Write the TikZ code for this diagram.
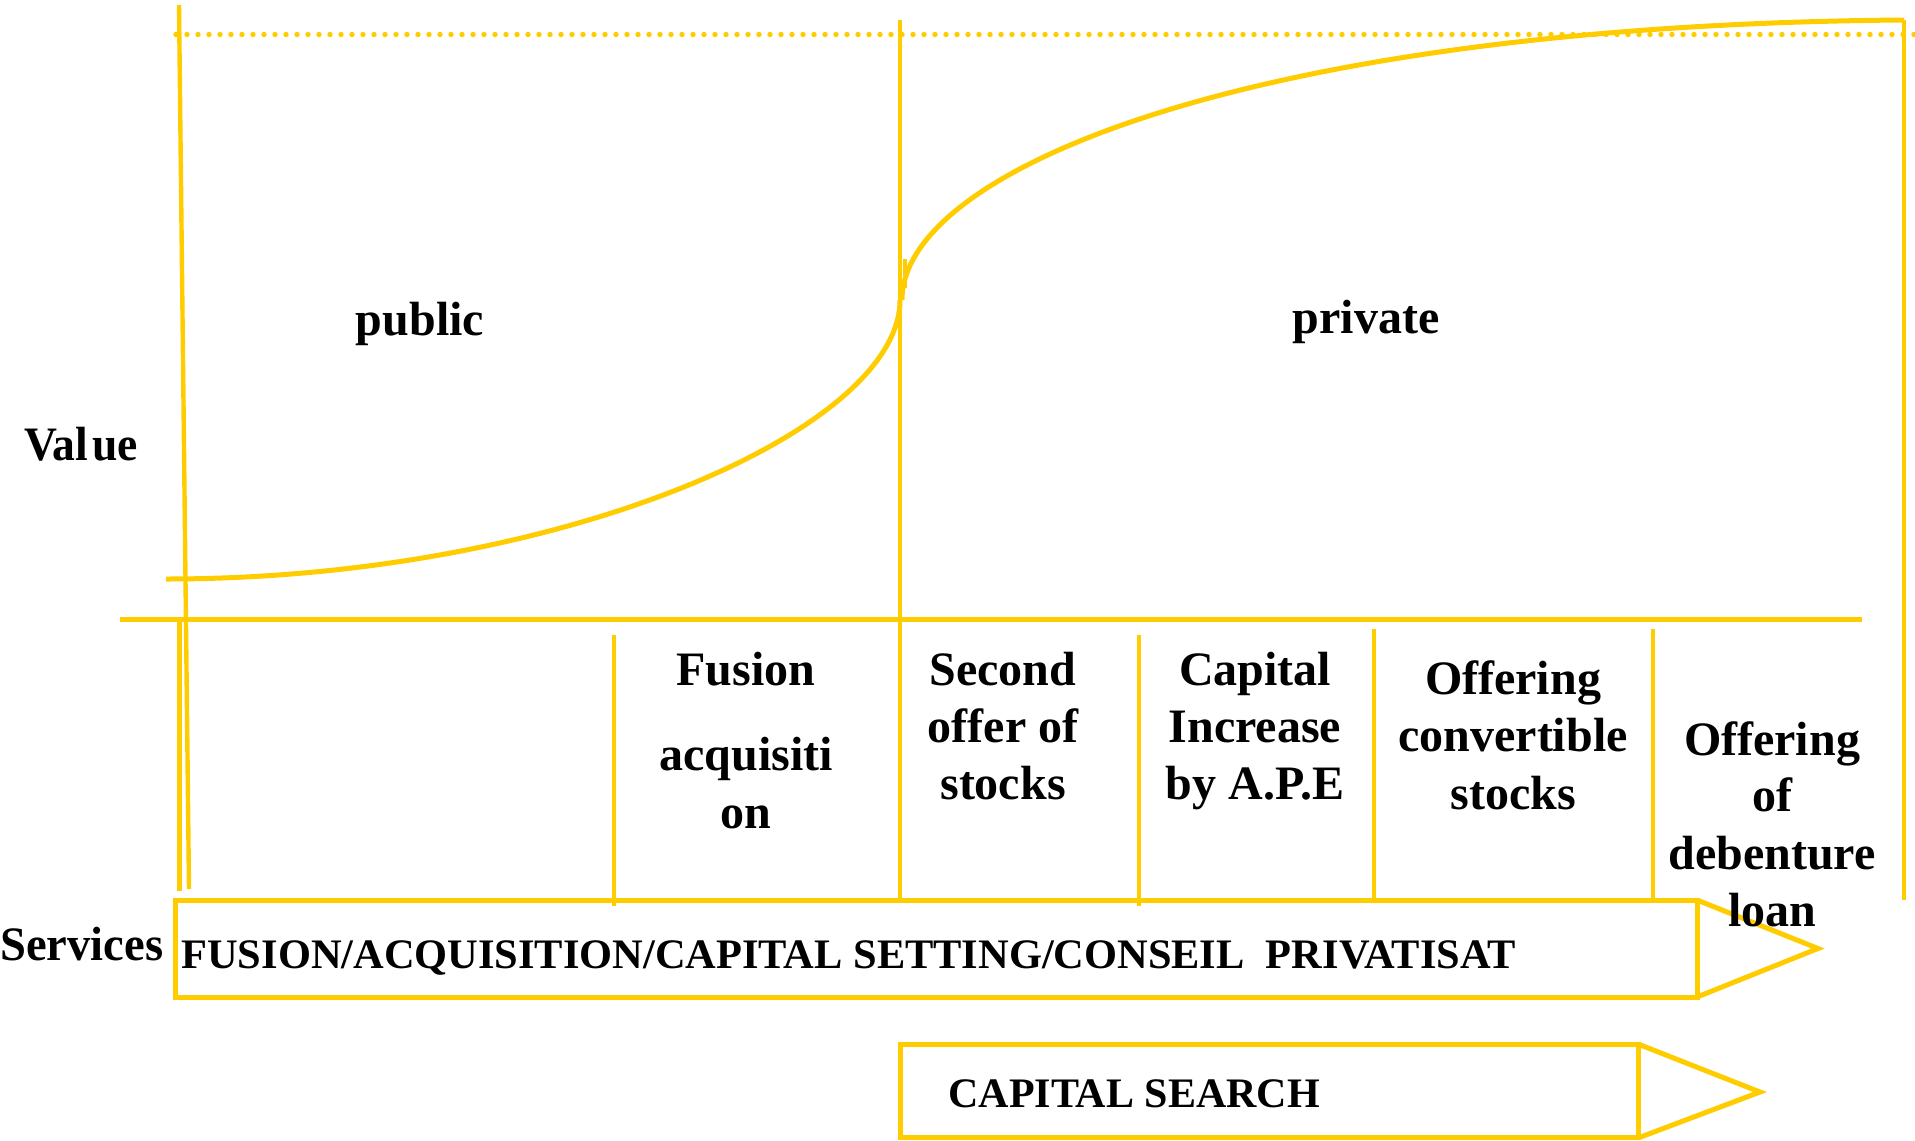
\documentclass[tikz,border=0pt]{standalone}
\usepackage{fontspec}
\setmainfont{Liberation Serif}
\usepackage{graphicx}
\definecolor{gold}{HTML}{FFCC00}
\tikzset{
  gline/.style={draw=gold, line width=2.2pt},
  curveline/.style={draw=gold, line width=2.5pt},
  dotline/.style={draw=gold, line width=2.7pt, line cap=round, dash pattern=on 0pt off 5.5pt},
  lbl/.style={font=\bfseries\fontsize{24}{28}\selectfont, inner sep=0pt, anchor=base},
  blbl/.style={font=\bfseries\fontsize{21}{25}\selectfont, inner sep=0pt, anchor=base west},
}
\begin{document}
\begin{tikzpicture}[x=0.5pt,y=-0.5pt]
\useasboundingbox (0,0) rectangle (1915,1140);
% dotted top line
\draw[dotline] (176,34.5) -- (1915,34.5);
% axes and grid lines
\draw[gline] (179,5) -- (189,889);
\draw[gline] (179.5,620) -- (179.5,891);
\draw[gline] (120,619.5) -- (1862,619.5);
\draw[gline] (900,20) -- (900,900);
\draw[gline] (905,259) -- (905,288);
\draw[gline] (1904,20) -- (1904,900);
% cell dividers
\draw[gline] (614,635) -- (614,906);
\draw[gline] (1139,635) -- (1139,906);
\draw[gline] (1374,629) -- (1374,898);
\draw[gline] (1653,629) -- (1653,898);
% value curve
\draw[curveline] (166,579) .. controls (560,579) and (900,430) .. (900,300);
\draw[curveline] (902,300) .. controls (902,170) and (1250,25) .. (1904,20);
% service arrows
\draw[gline, line width=2.5pt] (175,900) rectangle (1697,997);
\draw[gline, line width=2.5pt, line join=miter] (1697,900) -- (1818,948.5) -- (1697,997);
\draw[gline, line width=2.5pt] (900,1044) rectangle (1638,1137);
\draw[gline, line width=2.5pt, line join=miter] (1638,1044) -- (1760,1092) -- (1638,1138);
% labels
\node[lbl] (value) at (81,460) {\scalebox{0.95}[1]{Val\kern2pt ue}};
\node[lbl] (public) at (420,335.5) {public};
\node[lbl] (private) at (1366,333) {private};
\node[lbl, anchor=base west] (services) at (0,960) {\scalebox{0.97}[1]{Services}};
\node[lbl] (fus1) at (746,685) {Fusion};
\node[lbl] (fus2) at (746,770) {acquisiti};
\node[lbl] (fus3) at (746,828) {on};
\node[lbl] (sec1) at (1003,685) {Second};
\node[lbl] (sec2) at (1003,742) {offer of};
\node[lbl] (sec3) at (1003,799) {stocks};
\node[lbl] (cap1) at (1255,685) {Capital};
\node[lbl] (cap2) at (1255,742) {Increase};
\node[lbl] (cap3) at (1255,799) {by A.P.E};
\node[lbl] (conv1) at (1513,694) {Offering};
\node[lbl] (conv2) at (1513,751.5) {convertible};
\node[lbl] (conv3) at (1513,809) {stocks};
\node[lbl] (deb1) at (1772,755) {Offering};
\node[lbl] (deb2) at (1772,811) {of};
\node[lbl] (deb3) at (1772,869) {debenture};
\node[lbl] (deb4) at (1772,926) {loan};
\node[blbl] (fusionrow) at (181,968) {\scalebox{1.01}[1]{FUSION/ACQUISITION/CAPITAL SETTING/CONSEIL\ \ PRIVATISAT}};
\node[blbl] (capsearch) at (948,1107) {CAPITAL SEARCH};
\end{tikzpicture}
\end{document}
